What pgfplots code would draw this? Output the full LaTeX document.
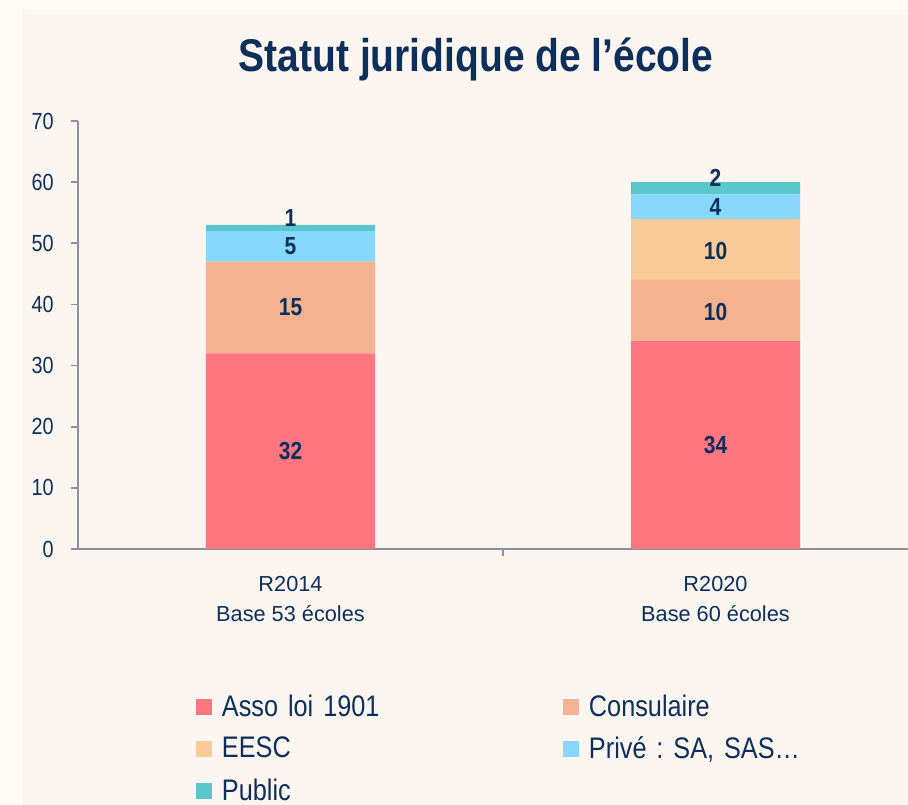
\documentclass[border=0pt]{standalone}
\usepackage{fontspec}
\setmainfont{Liberation Sans}
\newfontfamily\nf{Liberation Sans}[FakeStretch=0.85]
\usepackage{pgfplots}
\pgfplotsset{compat=1.18}
\frenchspacing
\definecolor{navy}{HTML}{0C2F5C}
\definecolor{axgray}{HTML}{8C919D}
\definecolor{bgout}{HTML}{FDFAF4}
\definecolor{bgin}{HTML}{FDF6F0}
\definecolor{cAsso}{HTML}{FF7580}
\definecolor{cCons}{HTML}{F5B291}
\definecolor{cEESC}{HTML}{FACB98}
\definecolor{cPriv}{HTML}{87D7FD}
\definecolor{cPub}{HTML}{5BC7CB}
\pgfplotsset{
  sqleg/.style={legend image code/.code={\fill[##1,draw=none] (0pt,-6pt) rectangle (12pt,6pt); \path (19.5pt,0pt);}},
}
\begin{document}
\begin{tikzpicture}
\fill[bgout] (0pt,0pt) rectangle (681pt,603.75pt);
\fill[bgin] (17.25pt,0pt) rectangle (681pt,596.25pt);
\node[font=\nf\bfseries\fontsize{34.4}{40}\selectfont, text=navy, anchor=base, inner sep=0pt] at (357pt,550pt) {Statut juridique de l’école};
\begin{axis}[
  at={(58.5pt,192pt)}, anchor=south west,
  scale only axis, width=622.5pt, height=321pt,
  xmin=-0.5, xmax=1.45294, ymin=0, ymax=70,
  ybar stacked, bar width=126.75pt,
  axis x line*=bottom, axis y line*=left,
  axis line style={draw=axgray, line width=1.3pt, -},
  tick style={draw=axgray, line width=1.3pt},
  tick align=outside,
  ytick={0,10,...,70}, minor tick num=0,
  major tick length=5.25pt,
  /pgf/number format/assume math mode=true,
  yticklabel style={font=\nf\fontsize{17.5}{20}\selectfont, text=navy, inner sep=0pt, anchor=east, xshift=-12.75pt},
  xtick={0.5}, xticklabels={},
  extra x ticks={0,1},
  extra x tick labels={{R2014\\Base 53 écoles},{R2020\\Base 60 écoles}},
  extra x tick style={major tick length=0pt, tick label style={font=\fontsize{16.3}{23}\selectfont, text=navy, align=center, inner sep=0pt, anchor=north, yshift=-20pt}},
  legend columns=2,
  legend cell align=left,
  legend style={at={(0.14217,-0.3190)}, anchor=north west, draw=none, fill=none, inner sep=0pt, outer sep=0pt, row sep=0pt, column sep=0pt,
    nodes={inner sep=0pt, text width=255.75pt, minimum height=31.5pt, align=left, font=\nf\fontsize{22.3}{26}\selectfont, text=navy}},
]
\addplot[fill=cAsso, draw=none, sqleg] coordinates {(0,32) (1,34)};
\addlegendentry{Asso loi 1901}
\addplot[fill=cCons, draw=none, sqleg] coordinates {(0,15) (1,10)};
\addlegendentry{Consulaire}
\addplot[fill=cEESC, draw=none, sqleg] coordinates {(0,0) (1,10)};
\addlegendentry{EESC}
\addplot[fill=cPriv, draw=none, sqleg] coordinates {(0,5) (1,4)};
\addlegendentry{Privé : SA, SAS…}
\addplot[fill=cPub, draw=none, sqleg] coordinates {(0,1) (1,2)};
\addlegendentry{Public}
\end{axis}
\begin{axis}[
  at={(58.5pt,192pt)}, anchor=south west,
  scale only axis, width=622.5pt, height=321pt,
  xmin=-0.5, xmax=1.45294, ymin=0, ymax=70,
  hide axis, clip=false,
  nodes near coords,
  point meta=explicit symbolic,
  every node near coord/.style={anchor=center, inner sep=0pt, font=\nf\bfseries\fontsize{18.5}{22}\selectfont, text=navy},
]
\addplot[draw=none, mark=none, nodes near coords] coordinates {
  (0,16) [32] (0,39.5) [15] (0,49.5) [5] (0,54.1) [1]
  (1,17) [34] (1,38.8) [10] (1,48.8) [10] (1,55.9) [4] (1,60.7) [2]
};
\end{axis}
\pgfresetboundingbox
\useasboundingbox (0pt,0pt) rectangle (681pt,603.75pt);
\end{tikzpicture}
\end{document}
